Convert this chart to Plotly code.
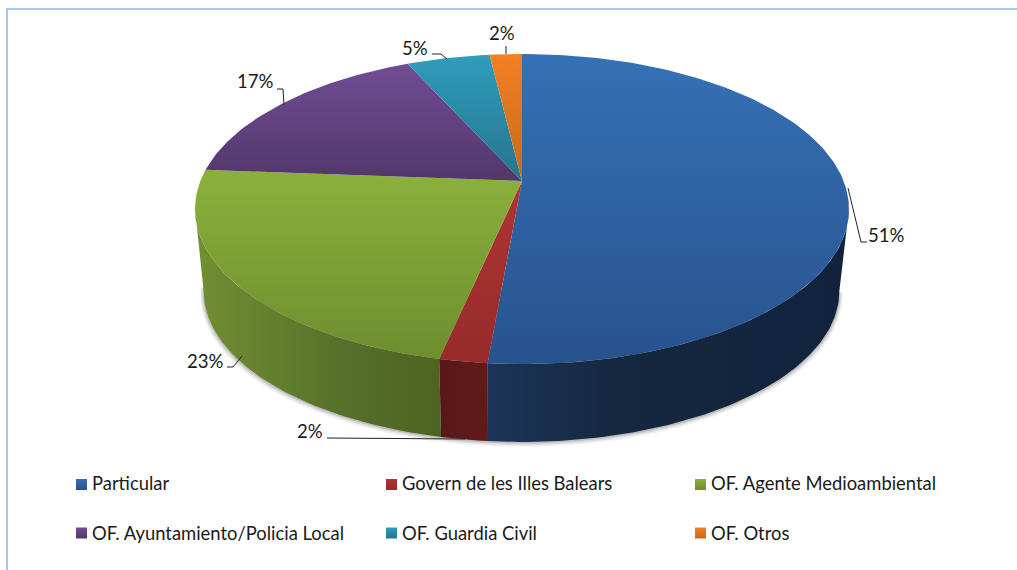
import math
import plotly.graph_objects as go

categories = ["Particular", "Govern de les Illes Balears", "OF. Agente Medioambiental",
              "OF. Ayuntamiento/Policia Local", "OF. Guardia Civil", "OF. Otros"]
values = [51.4, 2.0, 22.8, 17.0, 4.9, 1.9]
top_light = ["#3670b6", "#ad3533", "#8bb13c", "#714c96", "#2f9dbb", "#f28022"]
top_dark = ["#27538d", "#962b2a", "#6e8e2f", "#523769", "#26748e", "#c86a1a"]
side_light = ["#1b3559", "#5f1b1a", "#728f32", "#3f2a52", "#1c5a70", "#a05214"]
side_dark = ["#11233c", "#581817", "#4e6320", "#3f2a52", "#1c5a70", "#a05214"]

FONT = "Lato"
TEXT = "#1a1a1a"
HUB = (522.0, 181.0)
BASE_HUB = (521.5, 264.0)
A, B, K = 321.6, 150.0, 0.1806
BASE_SCALE = 0.972


def rim(theta, hub=HUB, s=1.0):
    u, v = math.sin(theta), math.cos(theta)
    d = 1 + K * v
    return hub[0] + s * A * u / d, hub[1] - s * B * v / d


def arc(a, b, hub=HUB, s=1.0, n=None):
    n = n or max(4, int(abs(b - a) * 60))
    pts = [rim(a + (b - a) * i / n, hub, s) for i in range(n + 1)]
    return [p[0] for p in pts], [p[1] for p in pts]


fig = go.Figure()
total = sum(values)
edges = [0.0]
for val in values:
    edges.append(edges[-1] + val / total * 2 * math.pi)

# soft shadow under the base
for grow, dy, alpha in [(3.5, 3.0, 0.07), (2.2, 2.0, 0.12), (1.0, 1.0, 0.18)]:
    a0, a1 = math.radians(100), math.radians(262)
    xs, ys = arc(a0, a1, (BASE_HUB[0], BASE_HUB[1] + dy), BASE_SCALE + grow / 320)
    fig.add_trace(go.Scatter(x=xs + [xs[0]], y=ys + [ys[0]], mode="lines", fill="toself",
                             fillcolor=f"rgba(60,60,60,{alpha})", line=dict(width=0),
                             hoverinfo="skip", showlegend=False))

# side walls (only the front, between the two silhouette angles)
SIL_R, SIL_L = math.pi / 2 + math.asin(K), 3 * math.pi / 2 - math.asin(K)
for i in range(len(values)):
    a, b = max(edges[i], SIL_R), min(edges[i + 1], SIL_L)
    if b <= a:
        continue
    tx, ty = arc(a, b)
    bx, by = arc(a, b, BASE_HUB, BASE_SCALE)
    px, py = tx + bx[::-1] + [tx[0]], ty + by[::-1] + [ty[0]]
    if i == 2:
        scale = [[0, side_light[i]], [0.62, "#55702a"], [1, side_dark[i]]]
    elif i == 0:
        scale = [[0, side_light[i]], [0.35, "#14283f"], [1, side_dark[i]]]
    else:
        scale = [[0, side_dark[i]], [1, side_light[i]]]
    fig.add_trace(go.Scatter(x=px, y=py, mode="lines", fill="toself", line=dict(width=0),
                             fillgradient=dict(type="horizontal", colorscale=scale),
                             hoverinfo="skip", showlegend=False))

# top face slices
for i in range(len(values)):
    rx, ry = arc(edges[i], edges[i + 1])
    px, py = [HUB[0]] + rx + [HUB[0]], [HUB[1]] + ry + [HUB[1]]
    fig.add_trace(go.Scatter(x=px, y=py, mode="lines", fill="toself", name=categories[i],
                             line=dict(width=0),
                             fillgradient=dict(type="vertical",
                                               colorscale=[[0, top_dark[i]], [1, top_light[i]]]),
                             hoverinfo="skip", showlegend=False))

# leader lines and data labels
leaders = [[(848, 188), (861, 242), (867, 242)], [(327, 438), (465, 439)],
           [(227, 367), (233, 367), (242, 356)], [(277, 89), (283, 89), (284, 105)],
           [(432, 54), (441, 54), (447, 59)], [(506, 46), (506, 54)]]
label_pos = [(886, 235), (310, 431), (205, 361), (255, 81), (415, 48), (502, 33)]
shapes, annotations = [], []
for pts in leaders:
    path = "M " + " L ".join(f"{x},{y}" for x, y in pts)
    shapes.append(dict(type="path", path=path, xref="x", yref="y",
                       line=dict(color="#222222", width=1)))
for (x, y), val in zip(label_pos, values):
    annotations.append(dict(x=x, y=y, xref="x", yref="y", text=f"{round(val)}%", showarrow=False,
                            font=dict(family=FONT, size=18.6, color=TEXT)))

# frame: top and left edges only
shapes.append(dict(type="path", path="M 7,570 L 7,9 L 1017,9", xref="x", yref="y",
                   line=dict(color="#a9c5ec", width=2)))

# legend built in a 3x2 grid
col_x, row_y, text_y = [81.5, 391.5, 700.5], [484.5, 533], [482.5, 532.5]
for i, name in enumerate(categories):
    x, y = col_x[i % 3], row_y[i // 3]
    fig.add_trace(go.Scatter(x=[x], y=[y], mode="markers", hoverinfo="skip", showlegend=False,
                             marker=dict(symbol="square", size=11, color=top_light[i],
                                         line=dict(width=0),
                                         gradient=dict(type="vertical", color=top_dark[i]))))
    annotations.append(dict(x=x + 8, y=text_y[i // 3], xref="x", yref="y", text=name, showarrow=False,
                            xanchor="left", font=dict(family=FONT, size=18.4, color=TEXT)))

fig.update_layout(width=1017, height=570, margin=dict(l=0, r=0, t=0, b=0),
                  paper_bgcolor="white", plot_bgcolor="white", shapes=shapes,
                  annotations=annotations, showlegend=False,
                  xaxis=dict(range=[0, 1017], visible=False, fixedrange=True),
                  yaxis=dict(range=[570, 0], visible=False, fixedrange=True))
fig.write_html("out.html", config=dict(displayModeBar=False),
               post_script="document.body.style.margin='0';document.body.style.overflow='hidden';")
